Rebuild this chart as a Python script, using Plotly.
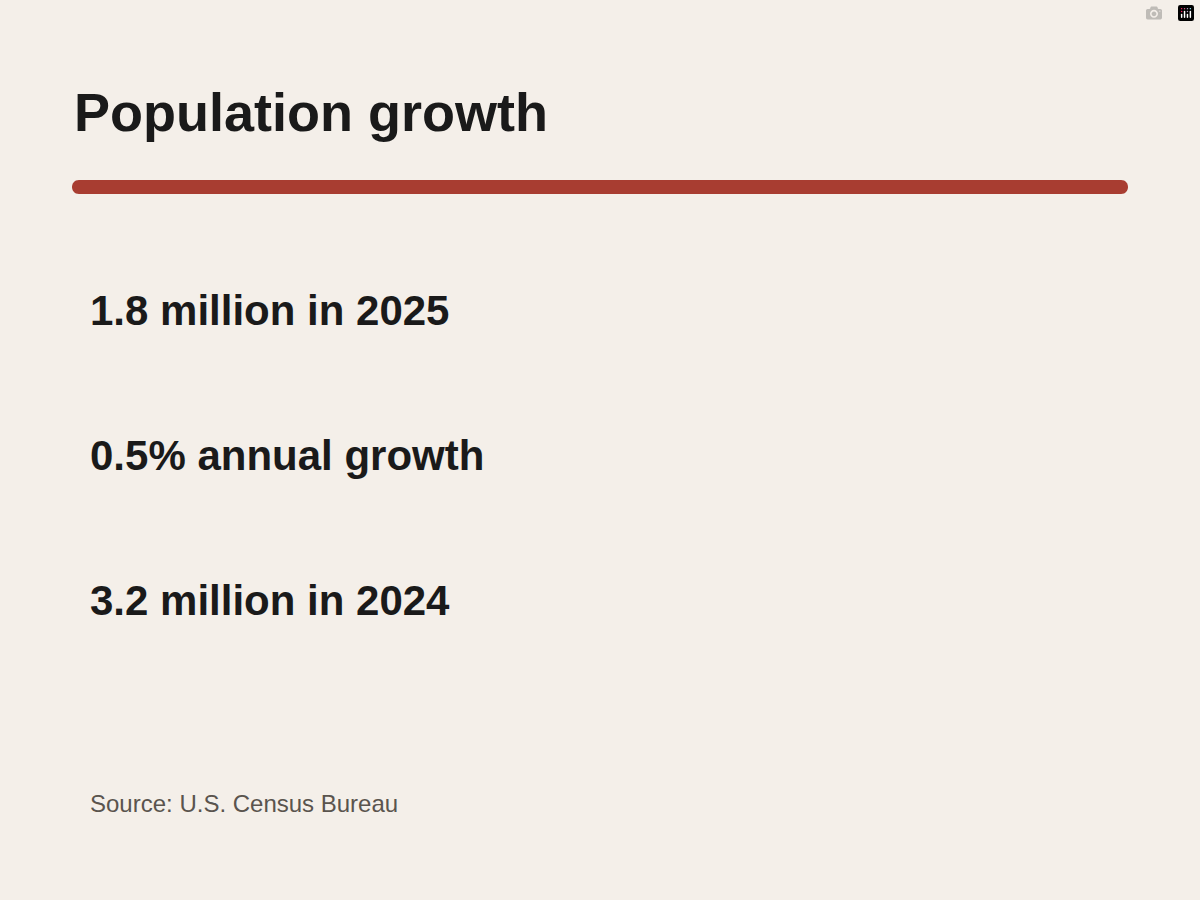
import plotly.graph_objects as go

title = "Population growth"
stats = ["1.8 million in 2025", "0.5% annual growth", "3.2 million in 2024"]
source = "Source: U.S. Census Bureau"

BG = "#f4efe9"
fig = go.Figure()
fig.update_layout(
    width=1200, height=900, paper_bgcolor=BG, plot_bgcolor=BG,
    margin=dict(l=0, r=0, t=0, b=0), showlegend=False,
    xaxis=dict(range=[0, 1200], visible=False, fixedrange=True),
    yaxis=dict(range=[900, 0], visible=False, fixedrange=True),
    font=dict(family="Liberation Sans, Arial, sans-serif"),
)
fig.add_annotation(x=72, y=112, xref="x", yref="y", text="<b>%s</b>" % title,
                   showarrow=False, xanchor="left", yanchor="middle",
                   font=dict(size=54, color="#1a1a1a"))
# red rule with rounded ends
x0, x1, yc, r = 72, 1128, 187, 7
k = r * 4 / 3
path = (f"M {x0+r},{yc-r} L {x1-r},{yc-r} C {x1-r+k},{yc-r} {x1-r+k},{yc+r} {x1-r},{yc+r} "
        f"L {x0+r},{yc+r} C {x0+r-k},{yc+r} {x0+r-k},{yc-r} {x0+r},{yc-r} Z")
fig.add_shape(type="path", path=path, xref="x", yref="y",
              fillcolor="#a83d31", line=dict(width=0))
for i, s in enumerate(stats):
    fig.add_annotation(x=88, y=310 + 145 * i, xref="x", yref="y", text="<b>%s</b>" % s,
                       showarrow=False, xanchor="left", yanchor="middle",
                       font=dict(size=42, color="#1a1a1a"))
fig.add_annotation(x=88, y=803, xref="x", yref="y", text=source, showarrow=False,
                   xanchor="left", yanchor="middle", font=dict(size=24, color="#5a544e"))
fig.write_html("out.html", post_script=(
    "document.body.style.margin='0';document.body.style.background='%s';" % BG))
